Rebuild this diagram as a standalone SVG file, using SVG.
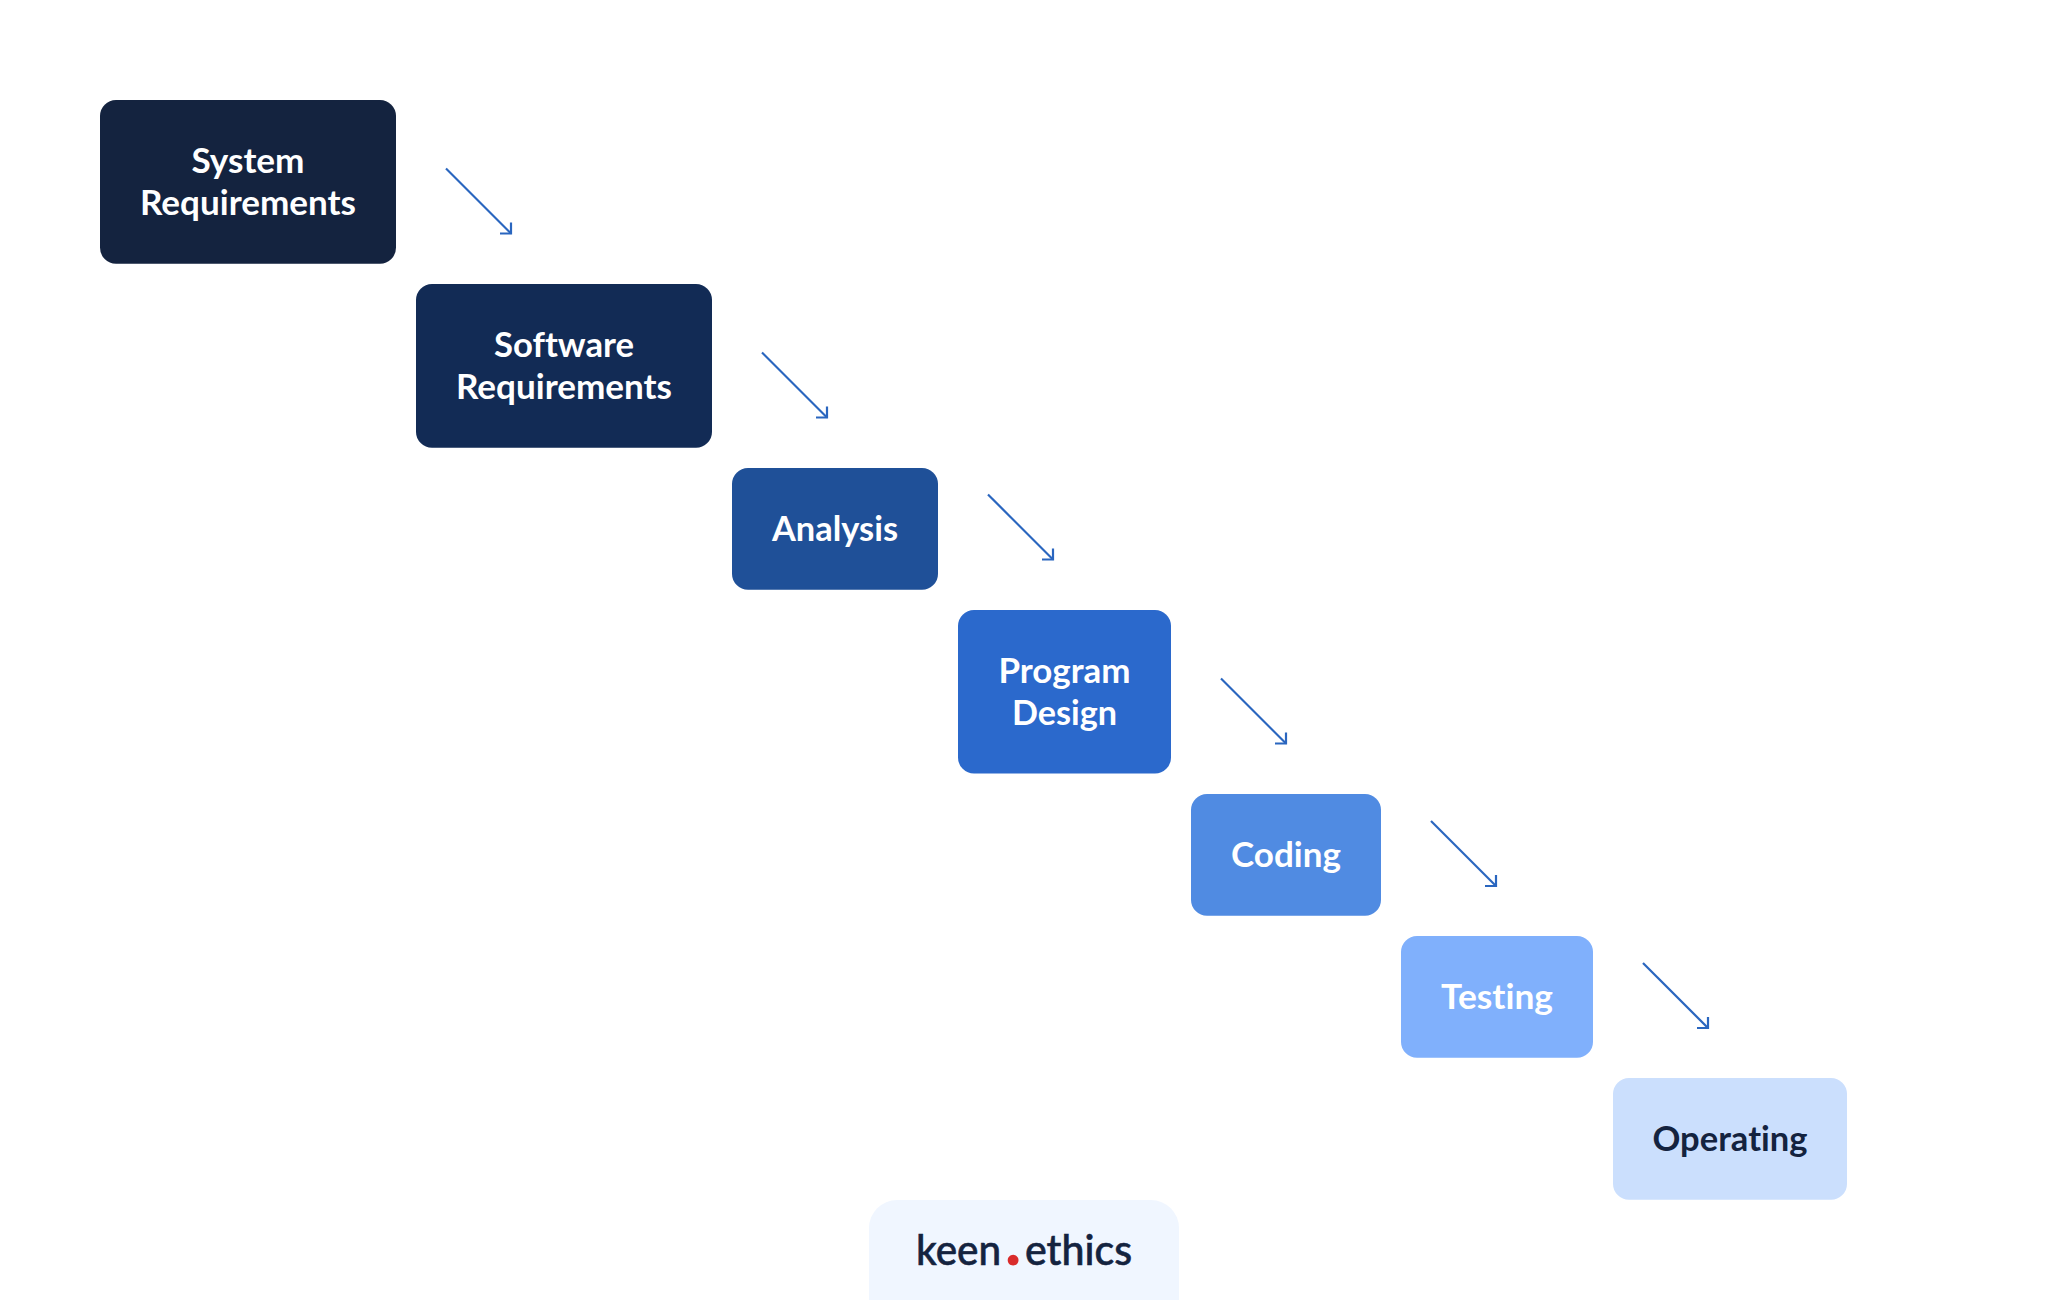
<svg xmlns="http://www.w3.org/2000/svg" width="2048" height="1300" viewBox="0 0 2048 1300">
  <style>
    text { font-family: "Lato", "Open Sans", sans-serif; font-weight: 700; font-size: 34px; text-anchor: middle; fill: #ffffff; font-variant-ligatures: none; }
    .dark { fill: #14233f; }
    .logo { font-size: 43px; font-weight: 500; text-anchor: start; fill: #14233f; stroke: #14233f; stroke-width: 0.6; }
    .dot { font-size: 66px; font-weight: 900; fill: #d92b2b; }
    .edge { fill: none; stroke: #2a66bf; stroke-width: 2.2; marker-end: url(#head); }
  </style>
  <defs>
    <marker id="head" markerUnits="userSpaceOnUse" markerWidth="14" markerHeight="14" refX="12" refY="12" orient="0" overflow="visible">
      <path d="M1 12H12V1" fill="none" stroke="#2a66bf" stroke-width="2.2"/>
    </marker>
  </defs>
  <rect width="2048" height="1300" fill="#ffffff"/>

  <g id="connectors">
    <path class="edge" d="M446 168.500L511 233.500"/>
    <path class="edge" d="M762 352.500L827 417.500"/>
    <path class="edge" d="M988 494.500L1053 559.500"/>
    <path class="edge" d="M1221 678.500L1286 743.500"/>
    <path class="edge" d="M1431 821L1496 886"/>
    <path class="edge" d="M1643 963L1708 1028"/>
  </g>

  <g id="system-requirements">
    <rect x="100" y="100" width="296" height="163.700" rx="16" fill="#14233f"/>
    <text x="248" y="173" textLength="113" lengthAdjust="spacingAndGlyphs">System</text>
    <text x="248" y="215" textLength="216" lengthAdjust="spacingAndGlyphs">Requirements</text>
  </g>
  <g id="software-requirements">
    <rect x="416" y="284" width="296" height="163.700" rx="16" fill="#122b55"/>
    <text x="564" y="357" textLength="140" lengthAdjust="spacingAndGlyphs">Software</text>
    <text x="564" y="399" textLength="216" lengthAdjust="spacingAndGlyphs">Requirements</text>
  </g>
  <g id="analysis">
    <rect x="732" y="468" width="206" height="121.700" rx="16" fill="#1f5098"/>
    <text x="835" y="541" textLength="126" lengthAdjust="spacingAndGlyphs">Analysis</text>
  </g>
  <g id="program-design">
    <rect x="958" y="610" width="213" height="163.500" rx="16" fill="#2b69cc"/>
    <text x="1064.500" y="683" textLength="132" lengthAdjust="spacingAndGlyphs">Program</text>
    <text x="1064.500" y="725" textLength="105" lengthAdjust="spacingAndGlyphs">Design</text>
  </g>
  <g id="coding">
    <rect x="1191" y="794" width="190" height="121.700" rx="16" fill="#508be2"/>
    <text x="1286" y="867" textLength="110" lengthAdjust="spacingAndGlyphs">Coding</text>
  </g>
  <g id="testing">
    <rect x="1401" y="936" width="192" height="121.700" rx="16" fill="#80b0fc"/>
    <text x="1497" y="1009" textLength="112" lengthAdjust="spacingAndGlyphs">Testing</text>
  </g>
  <g id="operating">
    <rect x="1613" y="1078" width="234" height="121.700" rx="16" fill="#cbdffd"/>
    <text class="dark" x="1730" y="1151" textLength="155" lengthAdjust="spacingAndGlyphs">Operating</text>
  </g>

  <g id="logo">
    <rect x="869" y="1200" width="310" height="130" rx="28" fill="#f0f6ff"/>
    <text class="logo" x="916" y="1265" textLength="85" lengthAdjust="spacingAndGlyphs">keen</text>
    <text class="logo" x="1025" y="1265" textLength="107" lengthAdjust="spacingAndGlyphs">ethics</text>
    <text class="dot" x="1013" y="1265">.</text>
  </g>
</svg>
